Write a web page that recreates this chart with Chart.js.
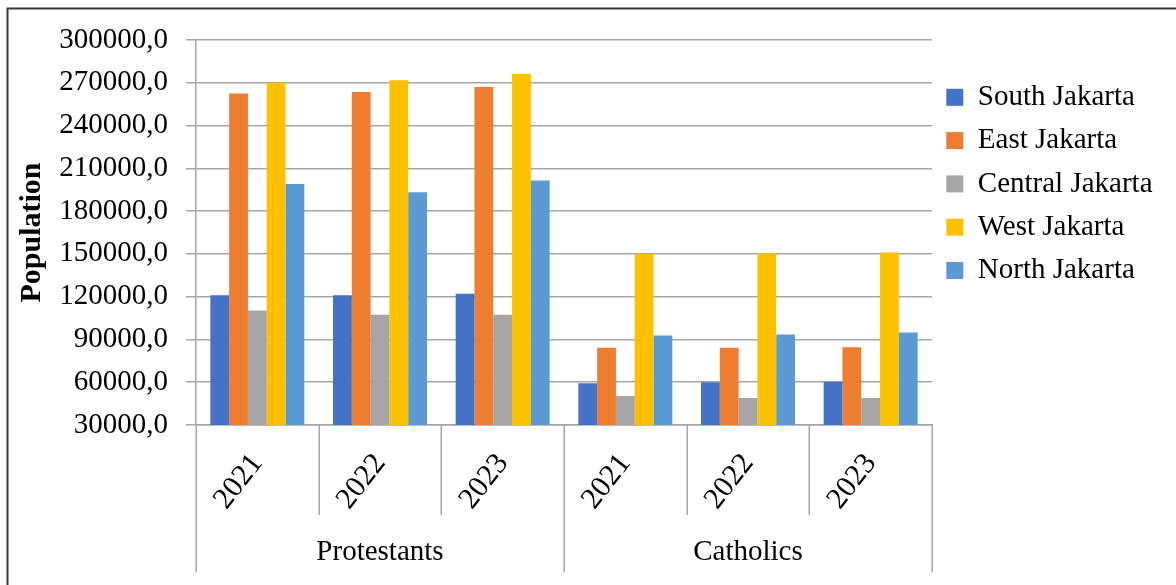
<!DOCTYPE html>
<html>
<head>
<meta charset="utf-8">
<script src="https://cdn.jsdelivr.net/npm/chart.js@4/dist/chart.umd.min.js"></script>
<style>
  html, body { margin: 0; padding: 0; background: #ffffff; }
  #wrap { position: relative; width: 1176px; height: 585px; overflow: hidden; }
  canvas { display: block; }
</style>
</head>
<body>
<div id="wrap"><canvas id="c" width="1176" height="585"></canvas></div>
<script>
// ---- data ----
const GROUPS = ['Protestants', 'Catholics'];
const YEARS = ['2021', '2022', '2023'];
const SERIES_NAMES = ['South Jakarta', 'East Jakarta', 'Central Jakarta', 'West Jakarta', 'North Jakarta'];
const SOUTH   = [121000, 121000, 122000, 59200, 60000, 60400];
const EAST    = [262500, 263500, 267000, 84100, 84100, 84500];
const CENTRAL = [110300, 107300, 107300, 50400, 49000, 49000];
const WEST    = [270000, 271700, 276100, 150000, 150500, 151000];
const NORTH   = [199000, 193200, 201400, 92700, 93400, 94900];
const Y_MIN = 30000, Y_MAX = 300000, Y_STEP = 30000;
const Y_TITLE = 'Population';

const COLORS = ['#4472C4', '#ED7D31', '#A5A5A5', '#FFC000', '#5B9BD5'];
const FONT = '"Liberation Serif", "Times New Roman", serif';
const GRID = '#a6a6a6';

const labels = [];
GROUPS.forEach(() => YEARS.forEach(y => labels.push(y)));
const values = [SOUTH, EAST, CENTRAL, WEST, NORTH];

const decor = {
  id: 'decor',
  beforeLayout(chart) {
    const L = chart.legend;
    if (L && !L._fixedW) {
      const f = L.fit;
      L.fit = function () { f.call(this); this.width = 244; };
      L._fixedW = true;
    }
  },
  afterDraw(chart) {
    const ctx = chart.ctx;
    const xs = chart.scales.x;
    const area = chart.chartArea;
    const n = labels.length;
    const w = (xs.right - xs.left) / n;
    const perGroup = YEARS.length;
    ctx.save();
    ctx.strokeStyle = GRID;
    ctx.lineWidth = 1.5;
    for (let i = 0; i <= n; i++) {
      const x = Math.round(xs.left + i * w) + 0.25;
      const isGroup = i % perGroup === 0;
      ctx.beginPath();
      ctx.moveTo(x, area.bottom);
      ctx.lineTo(x, isGroup ? area.bottom + 147 : area.bottom + 90);
      ctx.stroke();
    }
    ctx.fillStyle = '#000';
    ctx.font = '29px ' + FONT;
    ctx.textAlign = 'center';
    ctx.textBaseline = 'middle';
    GROUPS.forEach((g, gi) => {
      const cx = xs.left + (gi * perGroup + perGroup / 2) * w;
      ctx.fillText(g, cx, area.bottom + 127);
    });
    // outer frame
    ctx.strokeStyle = '#3a3a3a';
    ctx.lineWidth = 2;
    ctx.beginPath();
    ctx.moveTo(7.5, 600);
    ctx.lineTo(7.5, 8.5);
    ctx.lineTo(1200, 8.5);
    ctx.stroke();
    ctx.restore();
  }
};

new Chart(document.getElementById('c'), {
  type: 'bar',
  data: {
    labels: labels,
    datasets: SERIES_NAMES.map((name, i) => ({
      label: name,
      data: values[i],
      backgroundColor: COLORS[i],
      borderWidth: 0,
      categoryPercentage: 0.766,
      barPercentage: 1.0
    }))
  },
  options: {
    responsive: false,
    animation: false,
    events: [],
    layout: { padding: { top: 40, left: 0, right: 0, bottom: 0 } },
    plugins: {
      tooltip: { enabled: false },
      legend: {
        position: 'right',
        align: 'start',
        fullSize: false,
        title: { display: true, text: ' ', font: { size: 10, lineHeight: 1 }, padding: { top: 0, bottom: 18.5 } },
        labels: {
          font: { family: FONT, size: 29 },
          color: '#000',
          boxWidth: 17,
          boxHeight: 17,
          padding: 14.3
        }
      }
    },
    scales: {
      x: {
        grid: { display: false, drawTicks: false },
        border: { display: true, color: GRID, width: 1.5 },
        ticks: {
          color: '#000',
          font: { family: FONT, size: 30 },
          minRotation: 52,
          maxRotation: 52,
          autoSkip: false,
          padding: 22
        },
        afterFit(s) { s.height = 160; }
      },
      y: {
        min: Y_MIN,
        max: Y_MAX,
        grid: { color: GRID, lineWidth: 1.5, drawTicks: true, tickLength: 10, tickColor: GRID },
        border: { display: true, color: GRID, width: 1.5 },
        ticks: {
          stepSize: Y_STEP,
          color: '#000',
          font: { family: FONT, size: 29 },
          padding: 18,
          callback: v => v.toFixed(1).replace('.', ',')
        },
        title: {
          display: true,
          text: Y_TITLE,
          color: '#000',
          font: { family: FONT, size: 30, weight: 'bold' },
          padding: { top: 14, bottom: 0 }
        },
        afterFit(s) { s.width = 196; }
      }
    }
  },
  plugins: [decor]
});
</script>
</body>
</html>
